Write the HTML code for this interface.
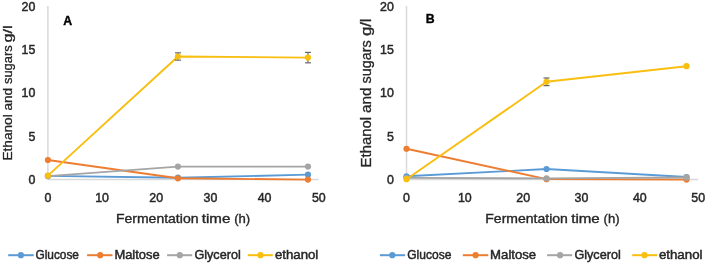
<!DOCTYPE html>
<html><head><meta charset="utf-8"><style>
html,body{margin:0;padding:0;background:#fff;width:707px;height:263px;overflow:hidden}
svg{display:block;filter:blur(0.3px)}
</style></head><body>
<svg width="707" height="263" viewBox="0 0 707 263">
<rect width="707" height="263" fill="#fff"/>
<line x1="47.90" y1="6" x2="47.90" y2="179.60" stroke="#D9D9D9" stroke-width="1.5"/>
<line x1="47.90" y1="179.60" x2="318.80" y2="179.60" stroke="#D9D9D9" stroke-width="1.5"/>
<text x="35.30" y="183.90" text-anchor="end" font-size="12.4" font-family="Liberation Sans, sans-serif" fill="#262626" stroke="#262626" stroke-width="0.45">0</text>
<text x="35.30" y="140.55" text-anchor="end" font-size="12.4" font-family="Liberation Sans, sans-serif" fill="#262626" stroke="#262626" stroke-width="0.45">5</text>
<text x="35.30" y="97.20" text-anchor="end" font-size="12.4" font-family="Liberation Sans, sans-serif" fill="#262626" stroke="#262626" stroke-width="0.45">10</text>
<text x="35.30" y="53.85" text-anchor="end" font-size="12.4" font-family="Liberation Sans, sans-serif" fill="#262626" stroke="#262626" stroke-width="0.45">15</text>
<text x="35.30" y="10.50" text-anchor="end" font-size="12.4" font-family="Liberation Sans, sans-serif" fill="#262626" stroke="#262626" stroke-width="0.45">20</text>
<text x="47.90" y="201.8" text-anchor="middle" font-size="12.4" font-family="Liberation Sans, sans-serif" fill="#262626" stroke="#262626" stroke-width="0.45">0</text>
<text x="102.08" y="201.8" text-anchor="middle" font-size="12.4" font-family="Liberation Sans, sans-serif" fill="#262626" stroke="#262626" stroke-width="0.45">10</text>
<text x="156.26" y="201.8" text-anchor="middle" font-size="12.4" font-family="Liberation Sans, sans-serif" fill="#262626" stroke="#262626" stroke-width="0.45">20</text>
<text x="210.44" y="201.8" text-anchor="middle" font-size="12.4" font-family="Liberation Sans, sans-serif" fill="#262626" stroke="#262626" stroke-width="0.45">30</text>
<text x="264.62" y="201.8" text-anchor="middle" font-size="12.4" font-family="Liberation Sans, sans-serif" fill="#262626" stroke="#262626" stroke-width="0.45">40</text>
<text x="318.80" y="201.8" text-anchor="middle" font-size="12.4" font-family="Liberation Sans, sans-serif" fill="#262626" stroke="#262626" stroke-width="0.45">50</text>
<polyline points="47.90,175.87 177.93,177.69 307.96,174.66" fill="none" stroke="#5B9BD5" stroke-width="1.9" stroke-linejoin="round"/>
<circle cx="47.90" cy="175.87" r="3.1" fill="#5B9BD5"/>
<circle cx="177.93" cy="177.69" r="3.1" fill="#5B9BD5"/>
<circle cx="307.96" cy="174.66" r="3.1" fill="#5B9BD5"/>
<polyline points="47.90,160.01 177.93,178.30 307.96,179.60" fill="none" stroke="#ED7D31" stroke-width="1.9" stroke-linejoin="round"/>
<circle cx="47.90" cy="160.01" r="3.1" fill="#ED7D31"/>
<circle cx="177.93" cy="178.30" r="3.1" fill="#ED7D31"/>
<circle cx="307.96" cy="179.60" r="3.1" fill="#ED7D31"/>
<polyline points="47.90,176.13 177.93,166.59 307.96,166.59" fill="none" stroke="#A5A5A5" stroke-width="1.9" stroke-linejoin="round"/>
<circle cx="47.90" cy="176.13" r="3.1" fill="#A5A5A5"/>
<circle cx="177.93" cy="166.59" r="3.1" fill="#A5A5A5"/>
<circle cx="307.96" cy="166.59" r="3.1" fill="#A5A5A5"/>
<polyline points="47.90,175.61 177.93,56.49 307.96,57.61" fill="none" stroke="#F8BE10" stroke-width="1.9" stroke-linejoin="round"/>
<g stroke="#666666" stroke-width="1.2"><line x1="177.93" y1="52.84" x2="177.93" y2="60.13"/><line x1="174.93" y1="52.84" x2="180.93" y2="52.84"/><line x1="174.93" y1="60.13" x2="180.93" y2="60.13"/></g>
<g stroke="#666666" stroke-width="1.2"><line x1="307.96" y1="52.41" x2="307.96" y2="62.82"/><line x1="304.96" y1="52.41" x2="310.96" y2="52.41"/><line x1="304.96" y1="62.82" x2="310.96" y2="62.82"/></g>
<circle cx="47.90" cy="175.61" r="3.1" fill="#F8BE10"/>
<circle cx="177.93" cy="56.49" r="3.1" fill="#F8BE10"/>
<circle cx="307.96" cy="57.61" r="3.1" fill="#F8BE10"/>
<text x="63.20" y="24.50" font-size="12.3" font-weight="bold" font-family="Liberation Sans, sans-serif" fill="#000" stroke="#000" stroke-width="0.35">A</text>
<text transform="translate(12.20,42.60) rotate(-90)" x="0" y="0" font-size="12.0" textLength="17.30" lengthAdjust="spacingAndGlyphs" font-family="Liberation Sans, sans-serif" fill="#262626" stroke="#262626" stroke-width="0.3">g/l</text>
<text transform="translate(12.20,84.10) rotate(-90)" x="0" y="0" font-size="12.0" textLength="38.90" lengthAdjust="spacingAndGlyphs" font-family="Liberation Sans, sans-serif" fill="#262626" stroke="#262626" stroke-width="0.3">sugars</text>
<text transform="translate(12.20,110.60) rotate(-90)" x="0" y="0" font-size="12.0" textLength="22.70" lengthAdjust="spacingAndGlyphs" font-family="Liberation Sans, sans-serif" fill="#262626" stroke="#262626" stroke-width="0.3">and</text>
<text transform="translate(12.20,160.50) rotate(-90)" x="0" y="0" font-size="12.0" textLength="46.20" lengthAdjust="spacingAndGlyphs" font-family="Liberation Sans, sans-serif" fill="#262626" stroke="#262626" stroke-width="0.3">Ethanol</text>
<text x="115.90" y="222.80" font-size="12.4" textLength="82.60" lengthAdjust="spacingAndGlyphs" font-family="Liberation Sans, sans-serif" fill="#262626" stroke="#262626" stroke-width="0.35">Fermentation</text>
<text x="201.80" y="222.80" font-size="12.4" textLength="28.60" lengthAdjust="spacingAndGlyphs" font-family="Liberation Sans, sans-serif" fill="#262626" stroke="#262626" stroke-width="0.35">time</text>
<text x="234.20" y="222.80" font-size="12.4" textLength="16.00" lengthAdjust="spacingAndGlyphs" font-family="Liberation Sans, sans-serif" fill="#262626" stroke="#262626" stroke-width="0.35">(h)</text>
<line x1="406.50" y1="6" x2="406.50" y2="179.60" stroke="#D9D9D9" stroke-width="1.5"/>
<line x1="406.50" y1="179.60" x2="698.20" y2="179.60" stroke="#D9D9D9" stroke-width="1.5"/>
<text x="393.90" y="183.90" text-anchor="end" font-size="12.4" font-family="Liberation Sans, sans-serif" fill="#262626" stroke="#262626" stroke-width="0.45">0</text>
<text x="393.90" y="140.55" text-anchor="end" font-size="12.4" font-family="Liberation Sans, sans-serif" fill="#262626" stroke="#262626" stroke-width="0.45">5</text>
<text x="393.90" y="97.20" text-anchor="end" font-size="12.4" font-family="Liberation Sans, sans-serif" fill="#262626" stroke="#262626" stroke-width="0.45">10</text>
<text x="393.90" y="53.85" text-anchor="end" font-size="12.4" font-family="Liberation Sans, sans-serif" fill="#262626" stroke="#262626" stroke-width="0.45">15</text>
<text x="393.90" y="10.50" text-anchor="end" font-size="12.4" font-family="Liberation Sans, sans-serif" fill="#262626" stroke="#262626" stroke-width="0.45">20</text>
<text x="406.50" y="201.8" text-anchor="middle" font-size="12.4" font-family="Liberation Sans, sans-serif" fill="#262626" stroke="#262626" stroke-width="0.45">0</text>
<text x="464.84" y="201.8" text-anchor="middle" font-size="12.4" font-family="Liberation Sans, sans-serif" fill="#262626" stroke="#262626" stroke-width="0.45">10</text>
<text x="523.18" y="201.8" text-anchor="middle" font-size="12.4" font-family="Liberation Sans, sans-serif" fill="#262626" stroke="#262626" stroke-width="0.45">20</text>
<text x="581.52" y="201.8" text-anchor="middle" font-size="12.4" font-family="Liberation Sans, sans-serif" fill="#262626" stroke="#262626" stroke-width="0.45">30</text>
<text x="639.86" y="201.8" text-anchor="middle" font-size="12.4" font-family="Liberation Sans, sans-serif" fill="#262626" stroke="#262626" stroke-width="0.45">40</text>
<text x="698.20" y="201.8" text-anchor="middle" font-size="12.4" font-family="Liberation Sans, sans-serif" fill="#262626" stroke="#262626" stroke-width="0.45">50</text>
<polyline points="406.50,176.31 546.52,169.02 686.53,177.00" fill="none" stroke="#5B9BD5" stroke-width="1.9" stroke-linejoin="round"/>
<circle cx="406.50" cy="176.31" r="3.1" fill="#5B9BD5"/>
<circle cx="546.52" cy="169.02" r="3.1" fill="#5B9BD5"/>
<circle cx="686.53" cy="177.00" r="3.1" fill="#5B9BD5"/>
<polyline points="406.50,148.73 546.52,179.17 686.53,179.60" fill="none" stroke="#ED7D31" stroke-width="1.9" stroke-linejoin="round"/>
<circle cx="406.50" cy="148.73" r="3.1" fill="#ED7D31"/>
<circle cx="546.52" cy="179.17" r="3.1" fill="#ED7D31"/>
<circle cx="686.53" cy="179.60" r="3.1" fill="#ED7D31"/>
<polyline points="406.50,177.87 546.52,178.39 686.53,177.43" fill="none" stroke="#A5A5A5" stroke-width="1.9" stroke-linejoin="round"/>
<circle cx="406.50" cy="177.87" r="3.1" fill="#A5A5A5"/>
<circle cx="546.52" cy="178.39" r="3.1" fill="#A5A5A5"/>
<circle cx="686.53" cy="177.43" r="3.1" fill="#A5A5A5"/>
<polyline points="406.50,179.17 546.52,81.80 686.53,66.20" fill="none" stroke="#F8BE10" stroke-width="1.9" stroke-linejoin="round"/>
<g stroke="#666666" stroke-width="1.2"><line x1="546.52" y1="77.99" x2="546.52" y2="85.62"/><line x1="543.52" y1="77.99" x2="549.52" y2="77.99"/><line x1="543.52" y1="85.62" x2="549.52" y2="85.62"/></g>
<circle cx="406.50" cy="179.17" r="3.1" fill="#F8BE10"/>
<circle cx="546.52" cy="81.80" r="3.1" fill="#F8BE10"/>
<circle cx="686.53" cy="66.20" r="3.1" fill="#F8BE10"/>
<text x="425.80" y="22.90" font-size="12.3" font-weight="bold" font-family="Liberation Sans, sans-serif" fill="#000" stroke="#000" stroke-width="0.35">B</text>
<text transform="translate(371.00,36.10) rotate(-90)" x="0" y="0" font-size="14.0" textLength="17.70" lengthAdjust="spacingAndGlyphs" font-family="Liberation Sans, sans-serif" fill="#262626" stroke="#262626" stroke-width="0.3">g/l</text>
<text transform="translate(371.00,83.40) rotate(-90)" x="0" y="0" font-size="14.0" textLength="43.20" lengthAdjust="spacingAndGlyphs" font-family="Liberation Sans, sans-serif" fill="#262626" stroke="#262626" stroke-width="0.3">sugars</text>
<text transform="translate(371.00,112.90) rotate(-90)" x="0" y="0" font-size="14.0" textLength="25.40" lengthAdjust="spacingAndGlyphs" font-family="Liberation Sans, sans-serif" fill="#262626" stroke="#262626" stroke-width="0.3">and</text>
<text transform="translate(371.00,167.40) rotate(-90)" x="0" y="0" font-size="14.0" textLength="50.40" lengthAdjust="spacingAndGlyphs" font-family="Liberation Sans, sans-serif" fill="#262626" stroke="#262626" stroke-width="0.3">Ethanol</text>
<text x="485.30" y="222.80" font-size="12.4" textLength="82.60" lengthAdjust="spacingAndGlyphs" font-family="Liberation Sans, sans-serif" fill="#262626" stroke="#262626" stroke-width="0.35">Fermentation</text>
<text x="571.20" y="222.80" font-size="12.4" textLength="28.60" lengthAdjust="spacingAndGlyphs" font-family="Liberation Sans, sans-serif" fill="#262626" stroke="#262626" stroke-width="0.35">time</text>
<text x="603.60" y="222.80" font-size="12.4" textLength="16.00" lengthAdjust="spacingAndGlyphs" font-family="Liberation Sans, sans-serif" fill="#262626" stroke="#262626" stroke-width="0.35">(h)</text>
<line x1="8.20" y1="255.2" x2="33.70" y2="255.2" stroke="#5B9BD5" stroke-width="2"/>
<circle cx="20.90" cy="255.2" r="3.1" fill="#5B9BD5"/>
<text x="35.40" y="258.60" font-size="12.2" textLength="43.60" lengthAdjust="spacingAndGlyphs" font-family="Liberation Sans, sans-serif" fill="#262626" stroke="#262626" stroke-width="0.45">Glucose</text>
<line x1="87.10" y1="255.2" x2="112.50" y2="255.2" stroke="#ED7D31" stroke-width="2"/>
<circle cx="100.20" cy="255.2" r="3.1" fill="#ED7D31"/>
<text x="114.40" y="258.60" font-size="12.2" textLength="45.30" lengthAdjust="spacingAndGlyphs" font-family="Liberation Sans, sans-serif" fill="#262626" stroke="#262626" stroke-width="0.45">Maltose</text>
<line x1="167.10" y1="255.2" x2="192.20" y2="255.2" stroke="#A5A5A5" stroke-width="2"/>
<circle cx="179.80" cy="255.2" r="3.1" fill="#A5A5A5"/>
<text x="194.40" y="258.60" font-size="12.2" textLength="46.40" lengthAdjust="spacingAndGlyphs" font-family="Liberation Sans, sans-serif" fill="#262626" stroke="#262626" stroke-width="0.45">Glycerol</text>
<line x1="247.80" y1="255.2" x2="272.80" y2="255.2" stroke="#F8BE10" stroke-width="2"/>
<circle cx="260.50" cy="255.2" r="3.1" fill="#F8BE10"/>
<text x="274.90" y="258.60" font-size="12.2" textLength="43.40" lengthAdjust="spacingAndGlyphs" font-family="Liberation Sans, sans-serif" fill="#262626" stroke="#262626" stroke-width="0.45">ethanol</text>
<line x1="379.90" y1="255.2" x2="405.10" y2="255.2" stroke="#5B9BD5" stroke-width="2"/>
<circle cx="392.30" cy="255.2" r="3.1" fill="#5B9BD5"/>
<text x="407.20" y="258.60" font-size="12.2" textLength="44.20" lengthAdjust="spacingAndGlyphs" font-family="Liberation Sans, sans-serif" fill="#262626" stroke="#262626" stroke-width="0.45">Glucose</text>
<line x1="462.80" y1="255.2" x2="488.30" y2="255.2" stroke="#ED7D31" stroke-width="2"/>
<circle cx="475.60" cy="255.2" r="3.1" fill="#ED7D31"/>
<text x="490.10" y="258.60" font-size="12.2" textLength="46.10" lengthAdjust="spacingAndGlyphs" font-family="Liberation Sans, sans-serif" fill="#262626" stroke="#262626" stroke-width="0.45">Maltose</text>
<line x1="547.10" y1="255.2" x2="572.20" y2="255.2" stroke="#A5A5A5" stroke-width="2"/>
<circle cx="560.10" cy="255.2" r="3.1" fill="#A5A5A5"/>
<text x="574.40" y="258.60" font-size="12.2" textLength="46.40" lengthAdjust="spacingAndGlyphs" font-family="Liberation Sans, sans-serif" fill="#262626" stroke="#262626" stroke-width="0.45">Glycerol</text>
<line x1="632.20" y1="255.2" x2="657.20" y2="255.2" stroke="#F8BE10" stroke-width="2"/>
<circle cx="644.50" cy="255.2" r="3.1" fill="#F8BE10"/>
<text x="658.90" y="258.60" font-size="12.2" textLength="43.60" lengthAdjust="spacingAndGlyphs" font-family="Liberation Sans, sans-serif" fill="#262626" stroke="#262626" stroke-width="0.45">ethanol</text>
</svg>
</body></html>
